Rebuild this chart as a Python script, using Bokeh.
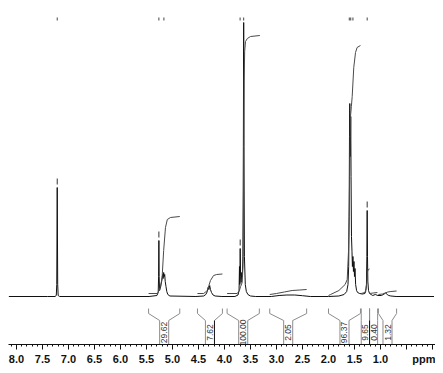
from bokeh.plotting import figure
from bokeh.models import Range1d, FixedTicker, CustomJSTickFormatter
from bokeh.embed import file_html
from bokeh.resources import INLINE
from bokeh.core.properties import value
import math

# ---- spectrum trace (chemical shift ppm, intensity a.u.) ----
spec_ppm = [8.15, 7.40, 7.26, 7.235, 7.226, 7.217, 7.208, 7.199, 7.17,
            5.45, 5.30, 5.275, 5.267, 5.262, 5.257, 5.249, 5.235, 5.22, 5.205, 5.19,
            5.18, 5.17, 5.16, 5.15, 5.14, 5.125, 5.11, 5.09, 5.05,
            4.55, 4.40, 4.36, 4.33, 4.315, 4.30, 4.285, 4.27, 4.25, 4.22, 4.18, 4.05,
            3.80, 3.74, 3.72, 3.712, 3.705, 3.698, 3.69, 3.68, 3.668, 3.657, 3.645,
            3.637, 3.631, 3.625, 3.617, 3.60, 3.58, 3.55, 3.50, 3.40,
            3.10, 2.95, 2.80, 2.65, 2.50, 2.35,
            2.00, 1.80, 1.70, 1.65, 1.625, 1.612, 1.603, 1.596, 1.590, 1.584, 1.578,
            1.572, 1.566, 1.558, 1.548, 1.540, 1.530, 1.520, 1.510, 1.500, 1.490,
            1.478, 1.46, 1.44, 1.40, 1.35, 1.30, 1.285, 1.27, 1.262, 1.256, 1.250,
            1.243, 1.23, 1.21, 1.18, 1.15, 1.10, 1.05, 0.98, 0.93, 0.90, 0.87, 0.84,
            0.80, 0.70, -0.03]
spec_int = [0, 0, 0, 1, 12, 109, 12, 1, 0,
            0, 1, 4, 20, 56, 20, 6, 8, 12, 16, 22,
            18, 24, 20, 22, 15, 10, 5, 2, 0.5,
            0, 0.5, 2, 5, 9, 7, 11, 7, 4, 1.5, 0.5, 0,
            0, 1.5, 6, 30, 12, 48, 20, 14, 24, 20, 40,
            150, 274, 150, 40, 12, 5, 2, 0.5, 0,
            0, 1, 1.5, 1.5, 0.8, 0,
            0, 0.5, 2, 5, 12, 30, 80, 160, 193, 140, 150,
            180, 120, 60, 45, 30, 40, 25, 35, 20, 28,
            12, 6, 4, 3, 2.5, 3, 5, 12, 40, 86, 40,
            15, 6, 3, 2, 1, 2, 1, 1, 2.5, 3.5, 2, 1,
            0.5, 0, 0]

# ---- integrals ----
int_labels = ["29.62", "7.62", "100.00", "2.05", "96.37", "9.65", "0.40", "1.32"]
int_start = [5.46, 4.52, 3.95, 3.13, 2.00, 1.37, 1.21, 1.04]
int_end = [4.86, 4.04, 3.33, 2.42, 1.385, 1.21, 1.055, 0.69]

int1_ppm = [5.46, 5.29, 5.27, 5.23, 5.20, 5.17, 5.135, 5.10, 5.04, 4.86]
int1_val = [3, 3, 5, 10, 19, 46, 69, 77, 79, 80]
int2_ppm = [4.52, 4.40, 4.33, 4.30, 4.27, 4.21, 4.15, 4.04]
int2_val = [3, 3, 6, 11, 16, 21, 22, 22.5]
int3_ppm = [3.95, 3.76, 3.72, 3.69, 3.66, 3.645, 3.636, 3.629, 3.622, 3.612, 3.596, 3.56, 3.50, 3.32]
int3_val = [3, 3, 5, 10, 14, 30, 90, 160, 215, 245, 255, 258, 260, 261]
int4_ppm = [3.13, 3.00, 2.85, 2.70, 2.55, 2.42]
int4_val = [2, 3, 4.5, 6, 6.5, 7]
int5_ppm = [2.00, 1.96, 1.80, 1.68, 1.64, 1.615, 1.60, 1.59, 1.577, 1.56, 1.544, 1.514, 1.48, 1.45, 1.385]
int5_val = [1, 2, 6, 12, 17, 45, 90, 140, 180, 190, 200, 229, 244, 249, 251]
int6_ppm = [1.37, 1.30, 1.275, 1.262, 1.256, 1.248, 1.235, 1.21]
int6_val = [3, 4, 8, 15, 20, 25, 27, 27.5]
int7_ppm = [1.21, 1.14, 1.06]
int7_val = [3, 3.5, 4]
int8_ppm = [1.04, 0.96, 0.91, 0.86, 0.80, 0.69]
int8_val = [2, 2.5, 3.5, 4.5, 5, 5.5]

# ---- peak picking ----
pick_ppm = [7.217, 5.262, 5.165, 3.700, 3.631, 1.600, 1.572, 1.530, 1.256]
marker_ppm = [7.217, 5.262, 3.698, 1.256]
marker_top = [109, 56, 48, 86]

# ---- axis ticks ----
major_ticks = [8.0, 7.5, 7.0, 6.5, 6.0, 5.5, 5.0, 4.5, 4.0, 3.5, 3.0, 2.5, 2.0, 1.5, 1.0, 0.5, 0.0]

p = figure(frame_width=427, frame_height=336,
           x_range=Range1d(8.154, -0.058), y_range=Range1d(-48, 288),
           output_backend="svg", toolbar_location=None,
           y_axis_location=None, min_border_left=8, min_border_right=0,
           min_border_top=8, min_border_bottom=0)
p.grid.visible = False
p.outline_line_color = None
p.background_fill_color = "white"

ax = p.xaxis[0]
minor = [round(8.1 - 0.1 * i, 1) for i in range(82)]
ax.ticker = FixedTicker(ticks=major_ticks, minor_ticks=minor)
ax.formatter = CustomJSTickFormatter(code="""
if (Math.abs(tick) < 1e-6) return 'ppm';
if (Math.abs(tick - 0.5) < 1e-6) return '';
return tick.toFixed(1);
""")
ax.axis_line_color = "#111111"
ax.major_tick_line_color = "#111111"
ax.minor_tick_line_color = "#111111"
ax.major_tick_out = 5
ax.major_tick_in = 0
ax.minor_tick_out = 2
ax.minor_tick_in = 0
ax.major_label_standoff = 3
ax.major_label_text_font = "Liberation Sans"
ax.major_label_text_font_style = "bold"
ax.major_label_text_font_size = "11px"
ax.major_label_text_color = "#111111"

# spectrum
p.line(spec_ppm, spec_int, line_color="#111111", line_width=1)

# integral curves
for xs, ys in [(int1_ppm, int1_val), (int2_ppm, int2_val), (int3_ppm, int3_val),
               (int4_ppm, int4_val), (int5_ppm, int5_val), (int6_ppm, int6_val),
               (int7_ppm, int7_val), (int8_ppm, int8_val)]:
    p.line(xs, ys, line_color="#4a4a4a", line_width=1)

# integral brackets
TOP, KNEE, SLOPE_END, BOTTOM = -12, -17, -24, -48
HW = 0.087
dark_right = [False, True, False, False, False, True, False, False]
bx0, by0, bx1, by1 = [], [], [], []
dx0, dy0, dx1, dy1 = [], [], [], []
tx, tl = [], []
for a, b, lab, dk in zip(int_start, int_end, int_labels, dark_right):
    mid = (a + b) / 2
    hw = min(HW, (a - b) / 2)
    cl, cr = mid + hw, mid - hw
    segs = [(a, TOP, a, KNEE), (a, KNEE, cl, SLOPE_END), (cl, SLOPE_END, cl, BOTTOM),
            (b, TOP, b, KNEE), (b, KNEE, cr, SLOPE_END)]
    for s in segs:
        bx0.append(s[0]); by0.append(s[1]); bx1.append(s[2]); by1.append(s[3])
    if dk:
        dx0.append(cr); dy0.append(SLOPE_END); dx1.append(cr); dy1.append(BOTTOM)
    else:
        bx0.append(cr); by0.append(SLOPE_END); bx1.append(cr); by1.append(BOTTOM)
    tx.append(mid); tl.append(lab)
p.segment(bx0, by0, bx1, by1, line_color="#8c8c8c", line_width=1)
p.segment(dx0, dy0, dx1, dy1, line_color="#111111", line_width=1)
p.text(tx, [-36] * len(tx), text=tl, angle=math.pi / 2,
       text_align="center", text_baseline="middle",
       text_font=value("Liberation Sans"), text_font_size="8.5px", text_color="#333333")

# peak pick marks
p.segment(marker_ppm, [t + 3 for t in marker_top], marker_ppm, [t + 9 for t in marker_top],
          line_color="#333333", line_width=1)
p.segment(pick_ppm, [276] * len(pick_ppm), pick_ppm, [279] * len(pick_ppm),
          line_color="#444444", line_width=1)

open("out.html", "w").write(file_html(p, INLINE))
